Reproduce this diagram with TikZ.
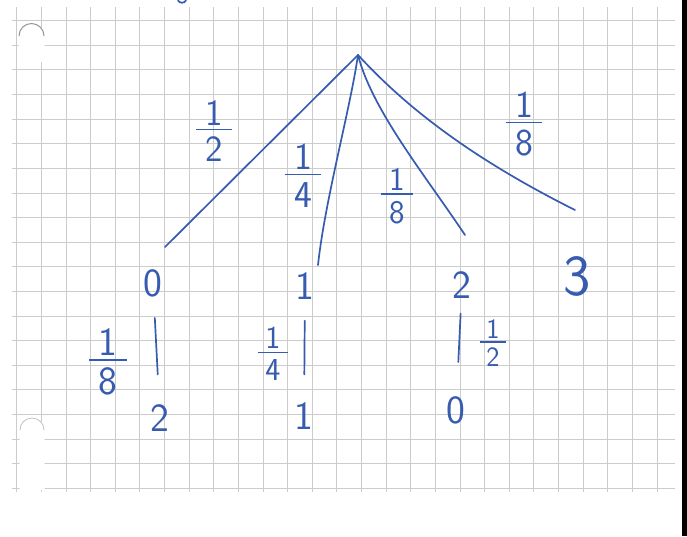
\documentclass[tikz,border=0pt]{standalone}
\usepackage{fontspec}
\usepackage{tikz}
\usetikzlibrary{positioning,calc}
\definecolor{inkblue}{RGB}{55,92,175}
\definecolor{gridgrey}{RGB}{204,204,204}
\definecolor{holegrey}{RGB}{150,150,150}
\setlength{\arrayrulewidth}{1.6pt}
\tikzset{
  pen/.style={inkblue,line width=1.7pt,line cap=round},
  digit/.style={inkblue,inner sep=0pt,font=\fontsize{40}{40}\selectfont\sffamily},
  wt/.style={inkblue,inner sep=0pt,font=\fontsize{#1}{#1}\selectfont\sffamily}
}
% hand-written fraction: digit, bar, digit
\newcommand{\wfrac}[2]{\begin{tabular}{@{\hspace{0.24em}}c@{\hspace{0.24em}}}#1\\[-0.2em]\hline\rule{0pt}{0.85em}#2\end{tabular}}

\begin{document}
\begin{tikzpicture}[x=1pt,y=-1pt]
  \fill[white] (0,0) rectangle (687,536);
  \useasboundingbox (0,0) rectangle (687,536);
  % squared paper
  \foreach \k in {0,...,26} {
    \pgfmathsetmacro\gx{16.7+24.63*\k}
    \draw[gridgrey,line width=0.9pt] (\gx,7) -- (\gx,492);
  }
  \foreach \k in {0,...,19} {
    \pgfmathsetmacro\gy{20.7+24.61*\k}
    \draw[gridgrey,line width=0.9pt] (12,\gy) -- (675,\gy);
  }
  % punch holes and scanner edge
  \fill[white] (18.5,36) arc[start angle=180,end angle=0,radius=13pt] -- (44.5,62) -- (18.5,62) -- cycle;
  \draw[holegrey,line width=1pt] (19,36) arc[start angle=180,end angle=0,radius=12.5pt];
  \fill[white] (19.5,430) arc[start angle=180,end angle=0,radius=12.5pt] -- (44.5,490) -- (19.5,490) -- cycle;
  \draw[holegrey!60,line width=0.8pt] (20,430) arc[start angle=180,end angle=0,radius=12pt];
  \fill[black] (682,0) rectangle (687,536);
  \draw[pen] (178,0.5) .. controls (180,3.5) and (184,3.5) .. (186,0.5);
  % root and the four first outcomes
  \coordinate (top) at (358,55);
  \node[digit] (c0) at (153,283) {0};
  \node[digit] (c1) at (305,286) {1};
  \node[digit] (c2) at (462,285) {2};
  \node[digit,font=\fontsize{58}{58}\selectfont\sffamily] (c3) at (577,276) {3};
  \coordinate (a0) at (165,247);
  \coordinate (a1) at (318,265);
  \coordinate (a2) at (465,235);
  \coordinate (a3) at (575,210);
  \draw[pen] (top) -- (a0);
  \draw[pen] (top) .. controls (350,110) and (325,200) .. (a1);
  \draw[pen] (top) .. controls (372,110) and (425,175) .. (a2);
  \draw[pen] (top) .. controls (395,95) and (455,150) .. (a3);
  \node[wt=37] (w0) at (214,136) {\wfrac{1}{2}};
  \node[wt=38] (w1) at (303,181) {\wfrac{1}{4}};
  \node[wt=33] (w2) at (397,200) {\wfrac{1}{8}};
  \node[wt=38] (w3) at (524,129) {\wfrac{1}{8}};
  % second step
  \node[digit] (d0) at (160,418) {2};
  \node[digit] (d1) at (304,416) {1};
  \node[digit] (d2) at (456,410) {0};
  \draw[pen,shorten <=21pt,shorten >=30pt] (c0) -- (d0);
  \draw[pen,shorten <=21pt,shorten >=28pt] (c1) -- (d1);
  \draw[pen,shorten <=15pt,shorten >=34pt] (c2) -- (d2);
  \node[wt=40] (v0) at (108,367) {\wfrac{1}{8}};
  \node[wt=32] (v1) at (273,358) {\wfrac{1}{4}};
  \node[wt=28] (v2) at (493,347) {\wfrac{1}{2}};
\end{tikzpicture}
\end{document}
